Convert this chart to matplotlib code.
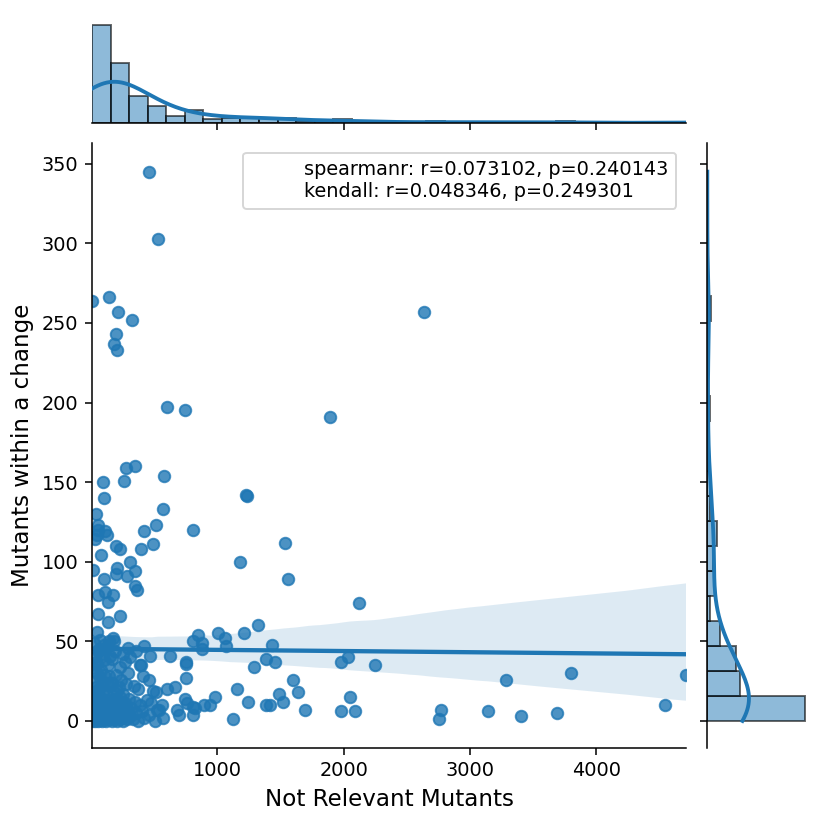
import numpy as np
import matplotlib
matplotlib.use("Agg")
import matplotlib.pyplot as plt
import matplotlib.patches as mpatches
import seaborn as sns

# points (sparse part, x = not relevant, y = within change)
x_sparse = [461, 527, 10, 145, 216, 327, 2632, 198, 184, 208, 601, 741, 1895, 274, 345,
            580, 97, 261, 1225, 1232, 105, 567, 40, 511, 58, 421, 806, 53, 111, 124,
            45, 32, 1534, 492, 395, 198, 229, 77, 1178, 308, 203, 18, 348, 282, 195,
            105, 1557, 348, 361, 111, 58, 176, 137, 2121, 53, 229, 132, 1318, 47, 1006,
            1212, 848, 176, 1059, 809, 875, 1436, 1067, 421, 880, 353, 624, 466, 2034, 1383,
            751, 751, 1455, 1976, 387, 2250, 1291, 3798, 4710, 751, 1600, 461, 3285, 664, 603,
            374, 1152, 514, 1639, 1486, 980, 2047, 743, 1244, 1520, 761, 1383, 1415, 893, 941,
            4543, 809, 559, 519, 677, 1696, 2771, 1976, 2092, 3146, 3692, 822, 809, 698, 3402,
            572, 2751, 1120]
y_sparse = [345, 303, 264, 266, 257, 252, 257, 243, 237, 233, 197, 195, 191, 159, 160,
            154, 150, 151, 142, 141, 140, 133, 130, 123, 123, 119, 120, 120, 119, 117,
            117, 114, 112, 111, 108, 110, 108, 104, 100, 100, 96, 95, 94, 91, 92,
            89, 89, 85, 82, 81, 79, 79, 75, 74, 67, 66, 62, 60, 56, 55,
            55, 54, 52, 52, 50, 49, 48, 47, 47, 45, 44, 41, 41, 40, 39,
            37, 36, 37, 37, 35, 35, 34, 30, 29, 27, 26, 26, 26, 21, 20,
            20, 20, 18, 18, 17, 15, 15, 14, 12, 12, 11, 10, 10, 10, 10,
            10, 9, 10, 7, 7, 7, 7, 6, 6, 6, 5, 8, 4, 4, 3,
            2, 1, 1]

# dense group near the origin (estimated)
x_dense = [7, 9, 12, 15, 18, 20, 23, 26, 28, 31, 34, 37, 40, 42, 45, 48, 51, 54, 57, 60,
           63, 66, 69, 72, 75, 78, 81, 84, 88, 91, 94, 97, 101, 104, 108, 111, 115, 118, 122, 126,
           130, 134, 138, 142, 147, 151,
           10, 22, 35, 47, 58, 70, 83, 95, 106, 117, 128, 139, 64, 150,
           14, 29, 44, 61, 76, 89, 103, 119, 133, 146, 52, 38,
           25, 68, 99, 141,
           156, 160, 165, 170, 174, 179, 183, 188, 193, 197, 202, 207, 212, 216, 221, 226, 231, 236,
           241, 246, 251, 256, 262, 267, 273, 279, 285, 291, 298,
           162, 181, 199, 218, 237, 255, 274, 290, 209,
           168, 190, 228, 249, 271, 295,
           185,
           305, 318, 331, 345, 358, 372, 389, 404, 421, 440,
           336, 412, 312, 398,
           455, 478, 503, 541, 489]
y_dense = [3, 0, 8, 12, 1, 5, 14, 2, 9, 0, 6, 11, 3, 15, 1, 7, 4, 13, 0, 10,
           2, 5, 8, 1, 12, 3, 6, 0, 14, 4, 9, 2, 7, 1, 11, 5, 0, 13, 3, 8,
           2, 6, 10, 1, 4, 9,
           18, 25, 21, 30, 17, 27, 23, 19, 29, 16, 24, 28, 20, 22,
           33, 40, 36, 45, 32, 42, 38, 46, 35, 41, 44, 37,
           49, 51, 48, 50,
           2, 7, 0, 11, 4, 14, 1, 9, 5, 13, 0, 6, 3, 10, 8, 1, 15, 4,
           12, 2, 7, 0, 5, 11, 3, 9, 1, 6, 14,
           24, 18, 29, 21, 26, 17, 23, 30, 19,
           39, 44, 34, 42, 37, 46,
           50,
           3, 8, 1, 12, 5, 0, 10, 6, 2, 13,
           22, 28, 40, 35,
           4, 11, 0, 7, 19]

stat_text = "spearmanr: r=0.073102, p=0.240143\nkendall: r=0.048346, p=0.249301"

x = np.array(x_sparse + x_dense, dtype=float)
y = np.array(y_sparse + y_dense, dtype=float)

fig = plt.figure(figsize=(6, 6), dpi=830 / 6)
ax = fig.add_axes([0.1108, 0.0988, 0.7157, 0.7289])
ax_top = fig.add_axes([0.1108, 0.8518, 0.7157, 0.1241], sharex=ax)
ax_right = fig.add_axes([0.8518, 0.0988, 0.1241, 0.7289], sharey=ax)

blue = "#1f77b4"
sns.regplot(x=x, y=y, ax=ax, color=blue, seed=0,
            scatter_kws=dict(s=36, alpha=0.8))
ax.set_xlim(x.min(), x.max())
ax.set_ylim(-17, 363)
ax.set_xlabel("Not Relevant Mutants", fontsize=12)
ax.set_ylabel("Mutants within a change", fontsize=12)
for s in ["top", "right"]:
    ax.spines[s].set_visible(False)

blank = mpatches.Rectangle((0, 0), 1, 1, fc="none", ec="none")
ax.legend([blank], [stat_text], loc="upper right", fontsize=10)

# marginal histograms + kde
bar_face = (0.1216, 0.4667, 0.7059, 0.5)
bar_edge = (0, 0, 0, 0.6)
ax_top.hist(x, bins=np.linspace(x.min(), x.max(), 33), density=True,
            facecolor=bar_face, edgecolor=bar_edge, linewidth=1)
sns.kdeplot(x=x, ax=ax_top, cut=0, color=blue, lw=2)
ax_right.hist(y, bins=np.linspace(y.min(), y.max(), 23), density=True,
              orientation="horizontal", facecolor=bar_face, edgecolor=bar_edge, linewidth=1)
sns.kdeplot(y=y, ax=ax_right, cut=0, color=blue, lw=2)

for s in ["top", "right", "left"]:
    ax_top.spines[s].set_visible(False)
ax_top.yaxis.set_visible(False)
ax_top.tick_params(labelbottom=False)
ax_top.set_xlabel("")
for s in ["top", "right", "bottom"]:
    ax_right.spines[s].set_visible(False)
ax_right.xaxis.set_visible(False)
ax_right.tick_params(labelleft=False)
ax_right.set_ylabel("")

fig.savefig("out.png", dpi=830 / 6)
